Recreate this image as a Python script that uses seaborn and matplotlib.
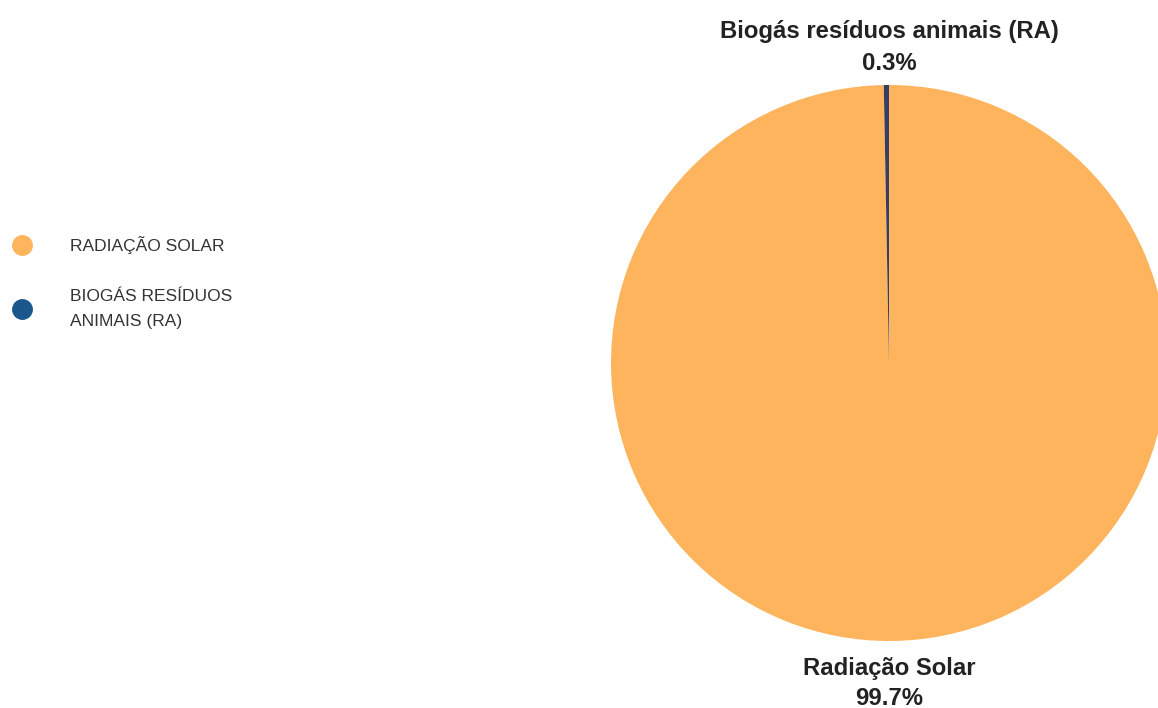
import matplotlib
matplotlib.use("Agg")
import matplotlib.pyplot as plt
from matplotlib.lines import Line2D
import seaborn as sns

categories = ["Radiação Solar", "Biogás resíduos animais (RA)"]
legend_labels = ["RADIAÇÃO SOLAR", "BIOGÁS RESÍDUOS\nANIMAIS (RA)"]
values = [99.7, 0.3]
pie_colors = ["#FDB45C", "#383D62"]
legend_colors = ["#FDB45C", "#1B578C"]

sns.set_theme(style="white")
plt.rcParams["font.family"] = ["Liberation Sans", "DejaVu Sans"]

W, H = 1158, 708
fig = plt.figure(figsize=(W / 100, H / 100), dpi=100)
fig.patch.set_facecolor("white")

cx, cy, r = 889, 363, 278
ax = fig.add_axes([(cx - r) / W, (H - cy - r) / H, 2 * r / W, 2 * r / H])
ax.pie(values, startangle=90, counterclock=False, colors=pie_colors,
       radius=1, wedgeprops=dict(linewidth=0))
ax.set_xlim(-1, 1)
ax.set_ylim(-1, 1)
ax.set_aspect("equal")
ax.axis("off")

txt_kw = dict(ha="center", va="center", fontsize=17.2, fontweight="bold",
              color="#222222", clip_on=False)
ax.text(0, 1.191, categories[1], **txt_kw)
ax.text(0, 1.076, f"{values[1]}%", **txt_kw)
ax.text(0, -1.098, categories[0], **txt_kw)
ax.text(0, -1.207, f"{values[0]}%", **txt_kw)

handles = [Line2D([0], [0], marker="o", linestyle="none", markersize=14,
                  markerfacecolor=c, markeredgecolor=c) for c in legend_colors]
leg = fig.legend(handles, legend_labels, loc="upper left",
                 bbox_to_anchor=(6 / W, 1 - 229 / H), frameon=False,
                 fontsize=12.5, handletextpad=2.3, labelspacing=2.0,
                 handlelength=1.0, borderaxespad=0)
for t in leg.get_texts():
    t.set_color("#333333")
    t.set_linespacing(1.85)

fig.savefig("out.png", dpi=100, facecolor="white")
